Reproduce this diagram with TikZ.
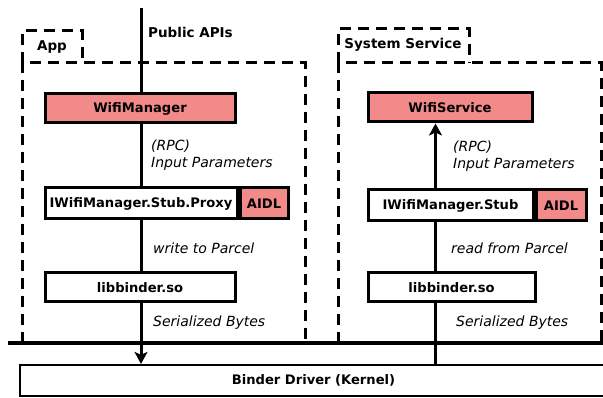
\documentclass[tikz,border=0pt]{standalone}
\usepackage{fontspec}
\setmainfont{DejaVu Sans}
\usetikzlibrary{arrows.meta}
\definecolor{boxpink}{RGB}{242,138,138}
\begin{document}
\begin{tikzpicture}[x=1pt,y=-1pt,
  box/.style={draw, line width=3pt, inner sep=0pt, font=\fontsize{13.1}{15}\selectfont\bfseries},
  pinkbox/.style={box, fill=boxpink},
  lbl/.style={font=\fontsize{14}{17.5}\selectfont\itshape, anchor=west, inner sep=0pt, align=left},
  ttl/.style={font=\fontsize{13.5}{15}\selectfont\bfseries, inner sep=0pt},
  grp/.style={line width=3pt, dash pattern=on 11pt off 7pt},
  conn/.style={line width=3pt},
  tip/.style={-{Stealth[length=12pt,width=13pt,inset=3pt]}}
]
\useasboundingbox (0,0) rectangle (603,398);
\clip (0,0) rectangle (603,398);

% groups
\draw[grp] (22,63) -- (22,31) -- (82,31) -- (82,63);
\draw[grp] (22,343) -- (22,63) -- (305,63) -- (305,343);
\draw[grp] (338,63) -- (338,29) -- (469,29) -- (469,63);
\draw[grp] (338,343) -- (338,63) -- (601,63) -- (601,343);
\node[ttl] (applbl) at (52,47) {App};
\node[ttl] (syslbl) at (403,45) {System Service};

% left column
\node[pinkbox, minimum width=190, minimum height=29] (wm) at (140,108.5) {WifiManager};
\node[box, minimum width=192, minimum height=31] (proxy) at (141,203.5) {IWifiManager.Stub.Proxy};
\node[pinkbox, minimum width=48, minimum height=31, anchor=west] (aidlL) at (proxy.east) {AIDL};
\node[box, minimum width=190, minimum height=29] (libL) at (140,287.5) {libbinder.so};

% right column
\node[pinkbox, minimum width=164, minimum height=29] (ws) at (450,107.5) {WifiService};
\node[box, minimum width=165, minimum height=31] (stub) at (450.5,205.5) {IWifiManager.Stub};
\node[pinkbox, minimum width=50, minimum height=31, anchor=west] (aidlR) at (stub.east) {AIDL};
\node[box, minimum width=167, minimum height=29] (libR) at (451.5,287.5) {libbinder.so};

% kernel
\node[box, line width=2.2pt, minimum width=587, minimum height=31] (binder) at (313.5,380.5) {Binder Driver (Kernel)};
\coordinate (busL) at (8,343);
\coordinate (busR) at (620,343);
\draw[line width=4.5pt] (busL) -- (busR);

% connectors left
\coordinate (pub) at (141,8);
\node[ttl, anchor=west] (publbl) at (148,32) {Public APIs};
\draw[conn] (pub) -- (pub |- wm.north);
\draw[conn] (pub |- wm.south) -- (pub |- proxy.north);
\draw[conn] (pub |- proxy.south) -- (pub |- libL.north);
\draw[conn, tip] (pub |- libL.south) -- (pub |- binder.north);

% connectors right
\coordinate (rx) at (435.5,0);
\draw[conn, tip] (rx |- stub.north) -- (rx |- ws.south);
\draw[conn] (rx |- libR.north) -- (rx |- stub.south);
\draw[conn] (rx |- libR.south) -- (rx |- binder.north);

% labels
\node[lbl] (rpcL) at (151,155) {(RPC)\\Input Parameters};
\node[lbl] (rpcR) at (453,156) {(RPC)\\Input Parameters};
\node[lbl] (wp) at (153,248) {write to Parcel};
\node[lbl] (rp) at (451,248) {read from Parcel};
\node[lbl] (sbL) at (153,323) {Serialized Bytes};
\node[lbl] (sbR) at (456,323) {Serialized Bytes};
\end{tikzpicture}
\end{document}
